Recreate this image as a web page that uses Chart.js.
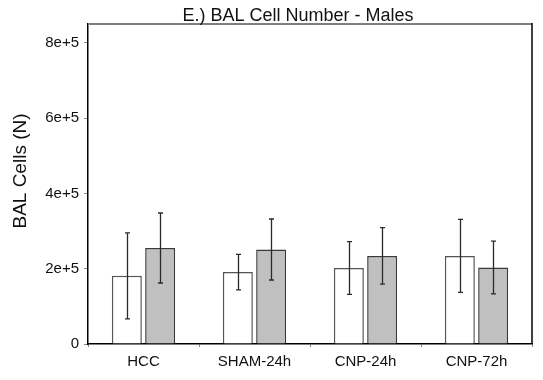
<!DOCTYPE html>
<html>
<head>
<meta charset="utf-8">
<script src="https://cdn.jsdelivr.net/npm/chart.js@4/dist/chart.umd.min.js"></script>
<style>
  html, body { margin: 0; padding: 0; background: #fff; }
  #wrap { width: 543px; height: 380px; }
</style>
</head>
<body>
<div id="wrap"><canvas id="myChart" width="543" height="380"></canvas></div>
<script>
// data
var categories = ['HCC', 'SHAM-24h', 'CNP-24h', 'CNP-72h'];
var whiteMeans = [181000, 191000, 202000, 234000];
var whiteErr = [114000, 47000, 70000, 97000];
var grayMeans = [255000, 251000, 234000, 203000];
var grayErr = [93000, 81000, 75000, 70000];
var yTicks = [0, 200000, 400000, 600000, 800000];

var chartTitle = 'E.) BAL Cell Number - Males';
var yTitle = 'BAL Cells (N)';

// error bars, frame and titles
var extrasPlugin = {
  id: 'extras',
  afterDatasetsDraw: function (chart) {
    var ctx = chart.ctx;
    var yScale = chart.scales.y;
    var errs = [whiteErr, grayErr];
    ctx.save();
    chart.data.datasets.forEach(function (ds, di) {
      var meta = chart.getDatasetMeta(di);
      meta.data.forEach(function (bar, i) {
        var hi = yScale.getPixelForValue(ds.data[i] + errs[di][i]);
        var lo = yScale.getPixelForValue(ds.data[i] - errs[di][i]);
        var x = Math.round(bar.x) + 0.5;
        ctx.strokeStyle = '#2a2a2a';
        ctx.lineWidth = 1.3;
        ctx.beginPath();
        ctx.moveTo(x, hi); ctx.lineTo(x, lo);
        ctx.moveTo(x - 2.5, hi); ctx.lineTo(x + 2.5, hi);
        ctx.moveTo(x - 2.5, lo); ctx.lineTo(x + 2.5, lo);
        ctx.stroke();
      });
    });

    var a = chart.chartArea;
    ctx.strokeStyle = '#808080';
    ctx.lineWidth = 2;
    ctx.beginPath();
    ctx.moveTo(a.left, a.top); ctx.lineTo(a.right, a.top);
    ctx.stroke();
    ctx.strokeStyle = '#000';
    ctx.lineWidth = 1.5;
    ctx.beginPath();
    ctx.moveTo(a.right, a.top - 1); ctx.lineTo(a.right, a.bottom);
    ctx.stroke();

    ctx.fillStyle = '#111';
    ctx.textAlign = 'center';
    ctx.textBaseline = 'alphabetic';
    ctx.font = '18px "Liberation Sans", Arial, sans-serif';
    ctx.fillText(chartTitle, 298, 21);

    ctx.translate(26, 171);
    ctx.rotate(-Math.PI / 2);
    ctx.font = '19px "Liberation Sans", Arial, sans-serif';
    ctx.fillText(yTitle, 0, 0);
    ctx.restore();
  }
};

var ctx = document.getElementById('myChart').getContext('2d');
var myChart = new Chart(ctx, {
  type: 'bar',
  data: {
    labels: categories,
    datasets: [{
      label: 'white',
      data: whiteMeans,
      backgroundColor: '#ffffff',
      borderColor: '#555555',
      borderWidth: 1.5
    }, {
      label: 'gray',
      data: grayMeans,
      backgroundColor: '#c0c0c0',
      borderColor: '#3a3a3a',
      borderWidth: 1.5
    }]
  },
  options: {
    responsive: false,
    animation: false,
    categoryPercentage: 0.6,
    barPercentage: 0.9,
    layout: {
      padding: { top: 24, right: 11, left: 0, bottom: 0 }
    },
    plugins: {
      legend: { display: false },
      title: { display: false },
      tooltip: { enabled: false }
    },
    scales: {
      x: {
        afterFit: function (s) { s.height = 36; },
        grid: { display: true, drawOnChartArea: false, tickLength: 3, color: '#888', offset: true },
        border: { display: true, color: '#000', width: 1.5 },
        ticks: {
          color: '#111',
          padding: 6,
          font: { family: '"Liberation Sans", Arial, sans-serif', size: 15 }
        }
      },
      y: {
        min: 0,
        max: 850000,
        afterFit: function (s) { s.width = 88; },
        afterBuildTicks: function (s) {
          s.ticks = yTicks.map(function (v) { return { value: v }; });
        },
        grid: { display: true, drawOnChartArea: false, tickLength: 4, color: '#888' },
        border: { display: true, color: '#000', width: 1.5 },
        ticks: {
          color: '#111',
          padding: 5,
          font: { family: '"Liberation Sans", Arial, sans-serif', size: 15 },
          callback: function (v) { return v === 0 ? '0' : (v / 100000) + 'e+5'; }
        }
      }
    }
  },
  plugins: [extrasPlugin]
});
</script>
</body>
</html>
